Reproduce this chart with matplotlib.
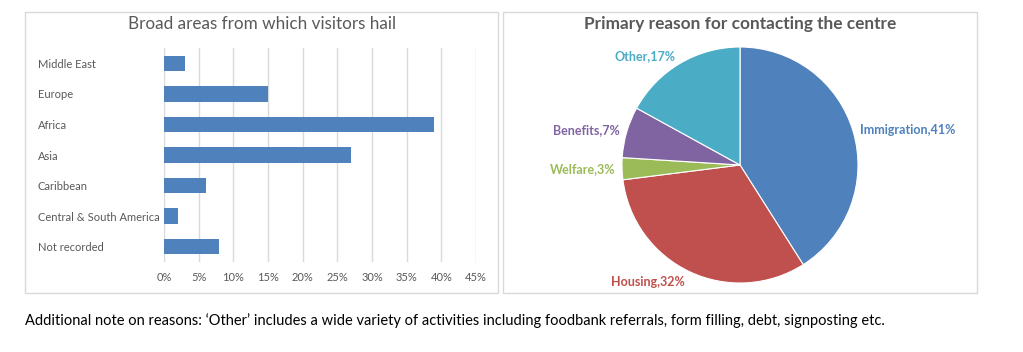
"""
Visitor origins and reasons for contact - two panel chart
"""

import numpy as np
import matplotlib.pyplot as plt
from matplotlib.patches import Rectangle

# ------------------------
# Data
# ------------------------
regions = ["Middle East", "Europe", "Africa", "Asia", "Caribbean",
           "Central & South America", "Not recorded"]
region_pct = [3, 15, 39, 27, 6, 2, 8]
x_ticks = [0, 5, 10, 15, 20, 25, 30, 35, 40, 45]

reasons = ["Immigration", "Housing", "Welfare", "Benefits", "Other"]
reason_pct = [41, 32, 3, 7, 17]
reason_colors = ["#4F81BD", "#C0504D", "#9BBB59", "#8064A2", "#4BACC6"]

W, H = 1023, 352
FONT = "Lato"
GREY = "#595959"

plt.rcParams["font.family"] = [FONT, "DejaVu Sans"]

fig = plt.figure(figsize=(W / 100, H / 100), dpi=100)

# panel frames
for x0, x1 in [(25, 498), (503, 977)]:
    fig.patches.append(Rectangle((x0 / W, 1 - 293 / H), (x1 - x0) / W, (293 - 12) / H,
                                 transform=fig.transFigure, fill=False,
                                 edgecolor="#D9D9D9", linewidth=1))

# ------------------------
# Bar chart
# ------------------------
ax = fig.add_axes([164 / W, 1 - 262 / H, (476 - 164) / W, (262 - 48) / H])
ypos = np.arange(len(regions))
ax.barh(ypos, region_pct, height=0.5, color="#4F81BD", zorder=3)
ax.set_ylim(len(regions) - 0.5, -0.5)
ax.set_xlim(0, 45)
ax.set_xticks(x_ticks)
ax.set_xticklabels([f"{v}%" for v in x_ticks], color=GREY, fontsize=8)
ax.grid(axis="x", color="#D9D9D9", linewidth=1, zorder=0)
ax.set_yticks(ypos)
ax.set_yticklabels(regions, color=GREY, fontsize=8, ha="left")
ax.tick_params(axis="y", length=0, pad=(164 - 38) * 0.72)
ax.tick_params(axis="x", length=0, pad=7)
for s in ax.spines.values():
    s.set_visible(False)

fig.text(262 / W, 1 - 24 / H, "Broad areas from which visitors hail",
         ha="center", va="center", fontsize=12.3, color=GREY)

# ------------------------
# Pie chart
# ------------------------
R = 118
cx, cy = 740, 165
pax = fig.add_axes([(cx - R) / W, 1 - (cy + R) / H, 2 * R / W, 2 * R / H])
wedges, _ = pax.pie(reason_pct, colors=reason_colors, startangle=90,
                    counterclock=False, radius=1,
                    wedgeprops=dict(edgecolor="white", linewidth=0.8))
pax.set_xlim(-1, 1)
pax.set_ylim(-1, 1)

label_dist = [1.06, 1.1, 1.06, 1.06, 1.07]
for w, name, pct, col, d in zip(wedges, reasons, reason_pct, reason_colors, label_dist):
    ang = np.deg2rad((w.theta1 + w.theta2) / 2)
    x, y = d * np.cos(ang), d * np.sin(ang)
    pax.text(x, y, f"{name},{pct}%", color=col, fontsize=9, fontweight="bold",
             ha="left" if x > 0 else "right", va="center")

fig.text(740 / W, 1 - 24 / H, "Primary reason for contacting the centre",
         ha="center", va="center", fontsize=12.4, fontweight="bold", color=GREY)

# footnote
fig.text(25 / W, 1 - 321 / H,
         "Additional note on reasons: \u2018Other\u2019 includes a wide variety of activities "
         "including foodbank referrals, form filling, debt, signposting etc.",
         ha="left", va="center", fontsize=10.5, color="black")

fig.savefig("out.png", dpi=100)
